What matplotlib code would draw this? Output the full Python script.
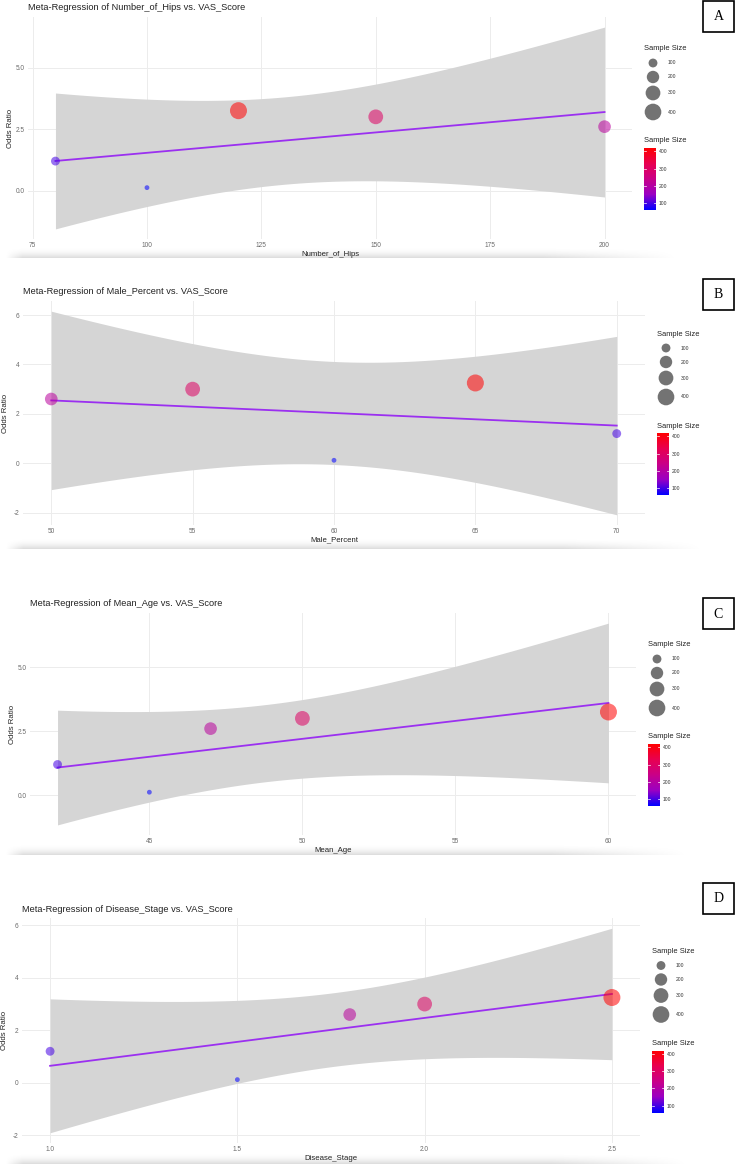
import numpy as np
import matplotlib
matplotlib.use("Agg")
import matplotlib.pyplot as plt
from matplotlib.colors import LinearSegmentedColormap, Normalize
from matplotlib.cm import ScalarMappable
from matplotlib.patches import Rectangle

plt.rcParams['font.family'] = ['Liberation Sans', 'DejaVu Sans']

# study level data (one entry per study)
number_of_hips = [80, 100, 120, 150, 200]
male_percent = [70, 60, 65, 55, 50]
mean_age = [42, 45, 60, 50, 47]
disease_stage = [1.0, 1.5, 2.5, 2.0, 1.8]
odds_ratio = [1.2, 0.12, 3.25, 3.0, 2.6]
sample_size = [100, 60, 420, 300, 210]

size_breaks = [100, 200, 300, 400]
hips_ticks = [75, 100, 125, 150, 175, 200]
male_ticks = [50, 55, 60, 65, 70]
age_ticks = [45, 50, 55, 60]
stage_ticks = [1.0, 1.5, 2.0, 2.5]
or_ticks_half = [0.0, 2.5, 5.0]
or_ticks_two = [-2, 0, 2, 4, 6]
panel_letters = ["A", "B", "C", "D"]

W, H = 737, 1165
DPI = 100
T_CRIT = 3.182446  # t(0.975, df = 5 - 2)

# ggplot-like blue -> red gradient (interpolated in Lab)
cmap = LinearSegmentedColormap.from_list(
    "bluered", ["#0000FF", "#9A00C3", "#C90088", "#E80050", "#FF0000"])
norm = Normalize(min(sample_size), max(sample_size))


def radius_px(v):
    frac = (np.asarray(v, float) - min(sample_size)) / (max(sample_size) - min(sample_size))
    return 2.4 + 6.1 * np.sqrt(np.clip(frac, 0, None))


def s_of(v):
    return (2 * radius_px(v) * 72.0 / DPI) ** 2


def fmt(ticks):
    if any(float(t) != int(t) for t in ticks) or isinstance(ticks[0], float):
        return ["%.1f" % t for t in ticks]
    return ["%d" % t for t in ticks]


def box(l, t, r, b):
    return [l / W, 1 - b / H, (r - l) / W, (b - t) / H]


fig = plt.figure(figsize=(W / DPI, H / DPI), dpi=DPI)
over = fig.add_axes([0, 0, 1, 1], zorder=0)
over.set_facecolor("none")
over.axis("off")

panels = [
    ("Number_of_Hips", number_of_hips, hips_ticks, or_ticks_half, (28, 17, 632, 239), 258, 680, (703, 1, 734, 32)),
    ("Male_Percent", male_percent, male_ticks, or_ticks_two, (23, 301, 645, 525), 549, 705, (703, 279, 734, 310)),
    ("Mean_Age", mean_age, age_ticks, or_ticks_half, (30, 613, 636, 835), 855, 690, (703, 598, 734, 629)),
    ("Disease_Stage", disease_stage, stage_ticks, or_ticks_two, (22, 918, 640, 1143), 1164, 690, (703, 883, 734, 914)),
]

for (name, xv, xt, yt, pb, shadow_y, shadow_r, lb), letter in zip(panels, panel_letters):
    x = np.array(xv, float)
    y = np.array(odds_ratio, float)
    n = len(x)
    slope, icpt = np.polyfit(x, y, 1)
    s = np.sqrt(np.sum((y - (icpt + slope * x)) ** 2) / (n - 2))
    xs = np.linspace(x.min(), x.max(), 80)
    fit = icpt + slope * xs
    se = s * np.sqrt(1.0 / n + (xs - x.mean()) ** 2 / np.sum((x - x.mean()) ** 2))
    lo, hi = fit - T_CRIT * se, fit + T_CRIT * se

    ax = fig.add_axes(box(*pb), zorder=1)
    ax.set_facecolor("white")
    xr = x.max() - x.min()
    ax.set_xlim(x.min() - 0.05 * xr, x.max() + 0.05 * xr)
    ymin, ymax = min(lo.min(), y.min()), max(hi.max(), y.max())
    yr = ymax - ymin
    ax.set_ylim(ymin - 0.05 * yr, ymax + 0.05 * yr)

    ax.fill_between(xs, lo, hi, color="#d5d5d5", lw=0, zorder=2)
    ax.plot(xs, fit, color="#9B30F0", lw=1.3, zorder=3)
    ax.scatter(x, y, s=s_of(sample_size), c=sample_size, cmap=cmap, norm=norm,
               alpha=0.55, edgecolors="none", zorder=4)

    xstep = xt[1] - xt[0]
    ystep = yt[1] - yt[0]
    ax.set_xticks(xt)
    ax.set_xticklabels(fmt(xt))
    ax.set_yticks(yt)
    ax.set_yticklabels(fmt(yt))
    xl, yl = ax.get_xlim(), ax.get_ylim()
    xminor = [v for v in np.arange(xt[0] - xstep * 1.5, xt[-1] + xstep * 1.5, xstep) + xstep / 2
              if xl[0] < v < xl[1] and v not in xt]
    yminor = [v for v in np.arange(yt[0] - ystep * 1.5, yt[-1] + ystep * 1.5, ystep) + ystep / 2
              if yl[0] < v < yl[1] and v not in yt]
    ax.set_xticks(xminor, minor=True)
    ax.set_yticks(yminor, minor=True)
    ax.grid(True, which="major", color="#ececec", lw=0.7, zorder=0)
    ax.grid(True, which="minor", color="#f3f3f3", lw=0.45, zorder=0)
    ax.set_axisbelow(True)
    ax.tick_params(which="both", length=0, labelsize=4.7, labelcolor="#6a6a6a", pad=2.5)
    for sp in ax.spines.values():
        sp.set_visible(False)

    l, t, r, b = pb
    cy = (t + b) / 2.0
    fig.text(l / W, 1 - (t - 9) / H, "Meta-Regression of %s vs. VAS_Score" % name,
             ha="left", va="center", fontsize=6.7, color="#222222")
    fig.text((l + r) / 2.0 / W, 1 - (b + 15) / H, name, ha="center", va="center",
             fontsize=5.6, color="#222222")
    fig.text((l - 17) / W, 1 - cy / H, "Odds Ratio", ha="center", va="center",
             rotation=90, fontsize=5.6, color="#222222")

    # size legend
    lx = r + 12
    over.text(lx, cy - 79, "Sample Size", ha="left", va="center", fontsize=5.4, color="#222222")
    key_y = [cy - 65, cy - 51, cy - 35, cy - 16]
    over.scatter([lx + 9] * len(size_breaks), key_y, s=s_of(size_breaks),
                 color="black", alpha=0.55, edgecolors="none")
    for ky, v in zip(key_y, size_breaks):
        over.text(lx + 24, ky, str(v), ha="left", va="center", fontsize=3.6, color="#333333")

    # colour legend
    over.text(lx, cy + 13, "Sample Size", ha="left", va="center", fontsize=5.4, color="#222222")
    cax = fig.add_axes(box(lx, cy + 20, lx + 12, cy + 82), zorder=1)
    cb = fig.colorbar(ScalarMappable(norm=norm, cmap=cmap), cax=cax, ticks=size_breaks)
    cb.outline.set_visible(False)
    cax.tick_params(length=0, labelsize=3.6, labelcolor="#333333", pad=2)
    for v in size_breaks:
        cax.plot([0, 0.2], [v, v], color="white", lw=0.5)
        cax.plot([0.8, 1.0], [v, v], color="white", lw=0.5)

    # shadow under each panel image
    sh = np.zeros((12, 200, 4))
    fade_y = np.linspace(0, 1, 12) ** 2
    fade_x = np.clip(np.linspace(0, 1, 200) * 40, 0, 1) * np.clip((1 - np.linspace(0, 1, 200)) * 5, 0, 1)
    sh[..., 3] = 0.13 * fade_y[:, None] * fade_x[None, :]
    over.imshow(sh, extent=(4, shadow_r, shadow_y, shadow_y - 12), aspect="auto",
                interpolation="bilinear", zorder=0)

    # panel letter box
    bl, bt, br, bb = lb
    over.add_patch(Rectangle((bl, bt), br - bl, bb - bt, fill=False, ec="black", lw=1.2))
    over.text((bl + br) / 2.0, (bt + bb) / 2.0 + 0.5, letter, ha="center", va="center",
              fontsize=10, family=["Liberation Serif", "DejaVu Serif"], color="black")

over.set_xlim(0, W)
over.set_ylim(H, 0)

fig.savefig("out.png", dpi=DPI, facecolor="white")
